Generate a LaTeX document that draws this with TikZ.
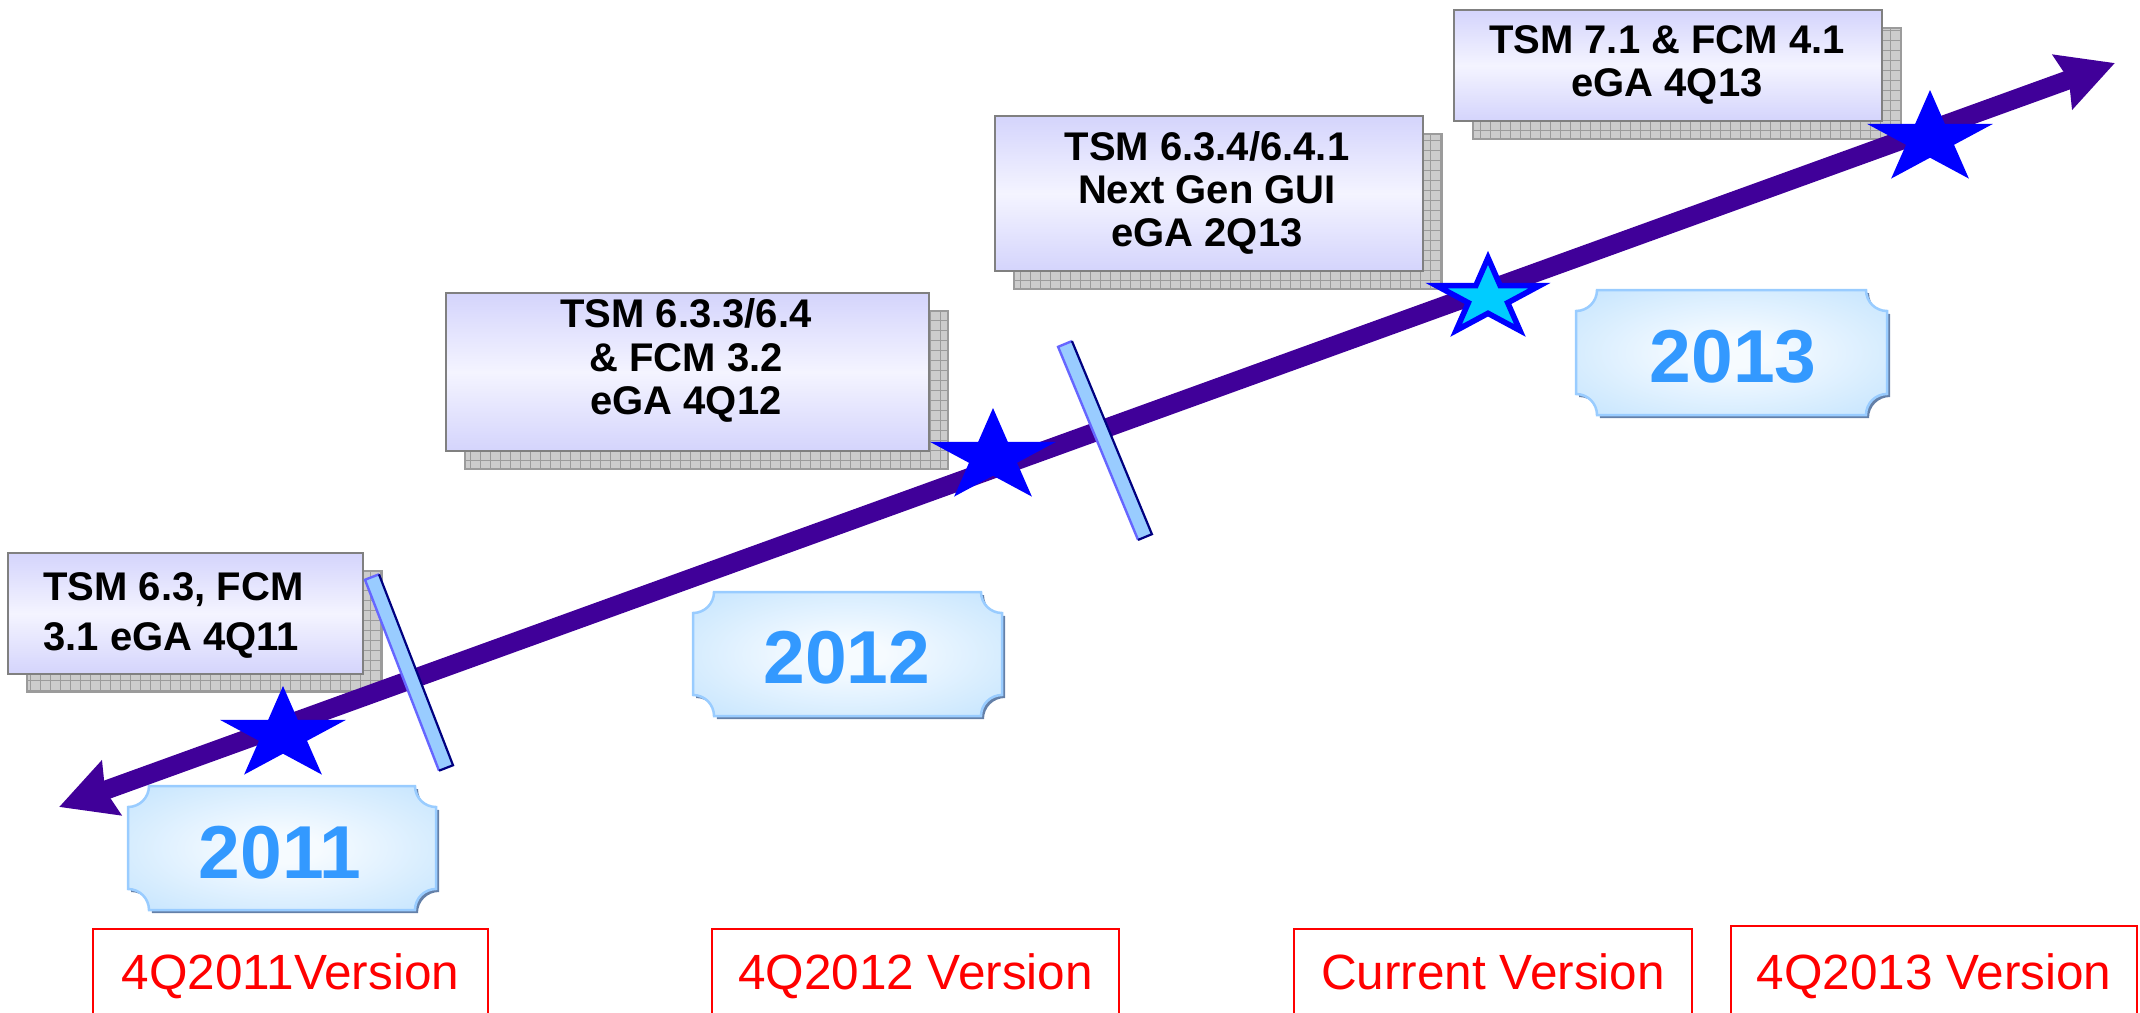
\documentclass[tikz,border=0pt]{standalone}
\usepackage{fontspec}
\setmainfont{Liberation Sans}
\usetikzlibrary{arrows.meta}
\definecolor{lavtop}{RGB}{212,212,252}
\definecolor{lavmid}{RGB}{244,244,255}
\definecolor{boxgray}{RGB}{128,128,128}
\definecolor{shadefill}{RGB}{204,204,204}
\definecolor{shadeline}{RGB}{155,155,155}
\definecolor{plin}{RGB}{246,251,255}
\definecolor{plout}{RGB}{196,228,254}
\definecolor{plborder}{RGB}{153,204,255}
\definecolor{plshadow}{RGB}{100,128,168}
\definecolor{yearblue}{RGB}{51,153,255}
\definecolor{arrowpurple}{RGB}{64,0,153}
\definecolor{starblue}{RGB}{0,0,255}
\definecolor{starcyan}{RGB}{0,204,255}
\definecolor{barfill}{RGB}{153,204,255}
\definecolor{barlight}{RGB}{102,102,255}
\definecolor{bardark}{RGB}{0,0,128}
\definecolor{vred}{RGB}{255,0,0}
\pgfdeclarelayer{bg}
\pgfsetlayers{bg,main}
\pgfdeclareradialshading{plaqueshade}{\pgfpoint{0bp}{0bp}}{color(0bp)=(plin); color(6bp)=(plin); color(36bp)=(plout); color(75bp)=(plout)}
\tikzset{
  pics/mystar/.style={code={\path[pic actions, xscale=1.35] (0,-49) -- (11.0,-15.1) -- (46.6,-15.1) -- (17.8,5.8) -- (28.8,39.6) -- (0,18.7) -- (-28.8,39.6) -- (-17.8,5.8) -- (-46.6,-15.1) -- (-11.0,-15.1) -- cycle;}},
  tlbox/.style={draw=boxgray, line width=1.25pt, top color=lavtop, bottom color=lavtop, middle color=lavmid, inner sep=0pt, outer sep=0pt},
  tltext/.style={inner sep=0pt, font=\fontsize{20}{21.6}\selectfont\bfseries, align=center},
  shadowgrid/.style={draw=shadeline, line width=0.45pt},
  yeartext/.style={inner sep=0pt, text=yearblue, font=\fontsize{37.5}{40}\selectfont\bfseries, text height=26.85pt, text depth=0pt},
  redbox/.style={draw=vred, line width=1.2pt, text=vred, inner sep=0pt, font=\fontsize{24.75}{28}\selectfont, text height=17.7pt, text depth=0pt},
  barbox/.style={fill=barfill, minimum height=7.5pt, inner sep=0pt, outer sep=0pt},
  barlightedge/.style={draw=barlight, line width=1.2pt},
  bardarkedge/.style={draw=bardark, line width=1.1pt},
  tline/.style={draw=arrowpurple, line width=9.5pt,
    {Stealth[length=27.5pt,width=28pt,inset=3pt]}-{Stealth[length=27.5pt,width=28pt,inset=3pt]}}
}
\begin{document}
\begin{tikzpicture}[x=0.5pt,y=-0.5pt]
\useasboundingbox (0,0) rectangle (2140,1012);
\clip (0,0) rectangle (2140,1012);

% release boxes
\node[tlbox, minimum width=177.5pt, minimum height=60.5pt] (b1) at (185.5,613.5) {};
\node[tlbox, minimum width=241.5pt, minimum height=79pt] (b2) at (687.5,372) {};
\node[tlbox, minimum width=214pt, minimum height=77.5pt] (b3) at (1209,193.5) {};
\node[tlbox, minimum width=214pt, minimum height=55.5pt] (b4) at (1668,65.5) {};

\begin{pgfonlayer}{bg}
\foreach \b in {b1,b2,b3,b4} {
  \fill[shadefill] ([shift={(19,18)}]\b.north west) rectangle ([shift={(19,18)}]\b.south east);
  \draw[shadowgrid, step=5pt] ([shift={(19,18)}]\b.north west) grid ([shift={(19,18)}]\b.south east);
  \draw[shadeline, line width=0.6pt] ([shift={(19,18)}]\b.north west) rectangle ([shift={(19,18)}]\b.south east);
}
\end{pgfonlayer}

\node[tltext, font=\fontsize{20}{25}\selectfont\bfseries, anchor=west, align=left] (t1) at (43,615) {TSM 6.3, FCM\\3.1 eGA 4Q11};
\node[tltext] (t2) at (686,360.5) {TSM 6.3.3/6.4\\\& FCM 3.2\\eGA 4Q12};
\node[tltext] (t3) at (1207,193) {TSM 6.3.4/6.4.1\\Next Gen GUI\\eGA 2Q13};
\node[tltext] (t4) at (1667,65) {TSM 7.1 \& FCM 4.1\\eGA 4Q13};

% year plaques
\foreach \xa/\ya/\xb/\yb in {128/786/436/910, 693/592/1002/716, 1576/290/1887/415} {
  \fill[plshadow, shift={(3,3)}] ({\xa+21},{\ya}) -- ({\xb-21},{\ya}) arc[start angle=180,end angle=270,radius=10.5pt] -- ({\xb},{\yb-21}) arc[start angle=90,end angle=180,radius=10.5pt] -- ({\xa+21},{\yb}) arc[start angle=0,end angle=90,radius=10.5pt] -- ({\xa},{\ya+21}) arc[start angle=270,end angle=360,radius=10.5pt] -- cycle;
  \shadedraw[shading=plaqueshade, draw=plborder, line width=1.25pt] ({\xa+21},{\ya}) -- ({\xb-21},{\ya}) arc[start angle=180,end angle=270,radius=10.5pt] -- ({\xb},{\yb-21}) arc[start angle=90,end angle=180,radius=10.5pt] -- ({\xa+21},{\yb}) arc[start angle=0,end angle=90,radius=10.5pt] -- ({\xa},{\ya+21}) arc[start angle=270,end angle=360,radius=10.5pt] -- cycle;
}
\node[yeartext] (y11) at (280,851.5) {2011};
\node[yeartext] (y12) at (847,657) {2012};
\node[yeartext] (y13) at (1733,356) {2013};

% time line
\coordinate (aL) at (59,807);
\coordinate (aR) at (2115,63);
\draw[tline] (aL) -- (aR);

% year separators
\node[barbox, rotate=-68.8, minimum width=102.4pt] (bar1) at (409,672.5) {};
\draw[barlightedge] (bar1.north west) -- (bar1.south west) -- (bar1.south east);
\draw[bardarkedge] (bar1.north west) -- (bar1.north east) -- (bar1.south east);
\node[barbox, rotate=-67.5, minimum width=104.5pt] (bar2) at (1105,440.5) {};
\draw[barlightedge] (bar2.north west) -- (bar2.south west) -- (bar2.south east);
\draw[bardarkedge] (bar2.north west) -- (bar2.north east) -- (bar2.south east);

% stars
\pic[fill=starblue] (s1) at (283,735) {mystar};
\pic[fill=starblue] (s2) at (993,457) {mystar};
\pic[fill=starcyan, draw=starblue, line width=2.8pt, scale=0.82] (s3) at (1488,298) {mystar};
\pic[fill=starblue] (s4) at (1930,139) {mystar};

% version boxes
\node[redbox, minimum width=197.5pt, minimum height=43pt] (v1) at (290.5,972) {4Q2011Version};
\node[redbox, minimum width=203.5pt, minimum height=43pt] (v2) at (915.5,972) {4Q2012 Version};
\node[redbox, minimum width=199pt, minimum height=43pt] (v3) at (1493,972) {Current Version};
\node[redbox, minimum width=203pt, minimum height=46pt] (v4) at (1934,972) {4Q2013 Version};
\end{tikzpicture}
\end{document}
